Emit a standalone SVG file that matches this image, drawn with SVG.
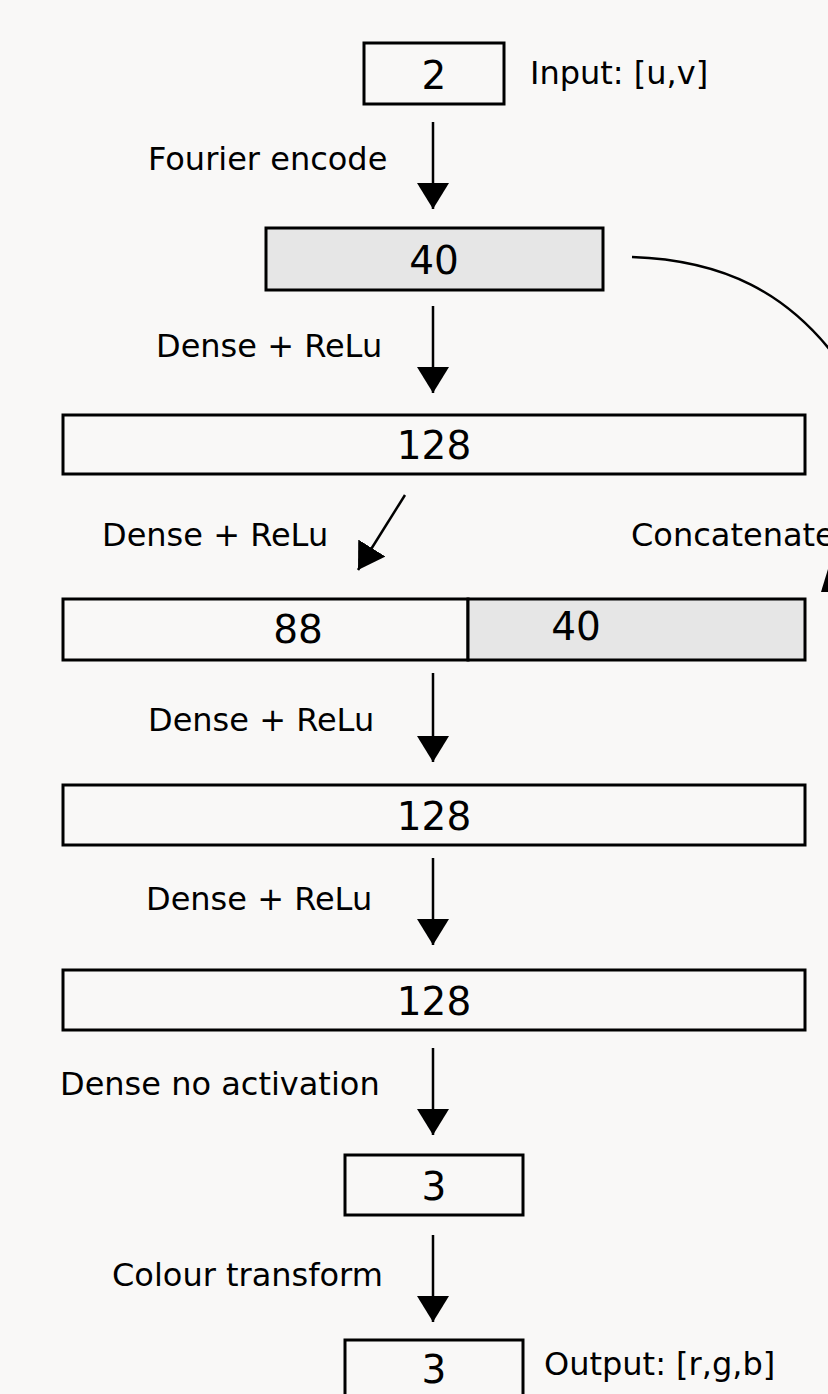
<svg xmlns="http://www.w3.org/2000/svg" width="828" height="1394" viewBox="0 0 828 1394">
<defs>
<style>
.box{fill:#f9f8f7;stroke:#000;stroke-width:3}
.gray{fill:#e6e6e6;stroke:#000;stroke-width:3}
.num{font-family:"DejaVu Sans",Verdana,sans-serif;font-size:39px;fill:#000;text-anchor:middle}
.lbl{font-family:"DejaVu Sans",Verdana,sans-serif;font-size:32px;fill:#000}
.arr{stroke:#000;stroke-width:2.5;fill:none;marker-end:url(#ah)}
</style>
<marker id="ah" markerUnits="userSpaceOnUse" markerWidth="28" markerHeight="34" refX="26" refY="16" orient="auto" viewBox="0 0 28 34">
<path d="M0,0 L26,16 L0,32 z" fill="#000"/>
</marker>
</defs>
<rect width="828" height="1394" fill="#f9f8f7"/>
<g id="n-input">
<rect class="box" x="364" y="43" width="140" height="61"/>
<text class="num" x="434" y="89">2</text>
<text class="lbl" x="530" y="84">Input: [u,v]</text>
</g>
<g id="n-fourier">
<rect class="gray" x="266" y="228" width="337" height="62"/>
<text class="num" x="434" y="274">40</text>
</g>
<g id="n-dense1">
<rect class="box" x="63" y="415" width="742" height="59"/>
<text class="num" x="434" y="459">128</text>
</g>
<g id="n-concat">
<rect class="box" x="63" y="599" width="405" height="61"/>
<rect class="gray" x="468" y="599" width="337" height="61"/>
<text class="num" x="298" y="643">88</text>
<text class="num" x="576" y="640">40</text>
</g>
<g id="n-dense3">
<rect class="box" x="63" y="785" width="742" height="60"/>
<text class="num" x="434" y="830">128</text>
</g>
<g id="n-dense4">
<rect class="box" x="63" y="970" width="742" height="60"/>
<text class="num" x="434" y="1015">128</text>
</g>
<g id="n-out-lin">
<rect class="box" x="345" y="1155" width="178" height="60"/>
<text class="num" x="434" y="1200">3</text>
</g>
<g id="n-output">
<rect class="box" x="345" y="1340" width="178" height="62"/>
<text class="num" x="434" y="1383">3</text>
<text class="lbl" x="544" y="1375">Output: [r,g,b]</text>
</g>
<g id="connectors">
<line class="arr" x1="433" y1="122" x2="433" y2="209"/>
<line class="arr" x1="433" y1="306" x2="433" y2="393"/>
<line class="arr" x1="405" y1="495" x2="358" y2="570"/>
<line class="arr" x1="433" y1="673" x2="433" y2="762"/>
<line class="arr" x1="433" y1="858" x2="433" y2="945"/>
<line class="arr" x1="433" y1="1048" x2="433" y2="1135"/>
<line class="arr" x1="433" y1="1235" x2="433" y2="1322"/>
<path d="M632,257 C720,260 790,290 845,370" stroke="#000" stroke-width="2.5" fill="none"/>
<path d="M828,569 L844,592 L821,592 z" fill="#000"/>
</g>
<g id="labels">
<text class="lbl" x="148" y="170">Fourier encode</text>
<text class="lbl" x="156" y="357">Dense + ReLu</text>
<text class="lbl" x="102" y="546">Dense + ReLu</text>
<text class="lbl" x="631" y="546">Concatenate</text>
<text class="lbl" x="148" y="731">Dense + ReLu</text>
<text class="lbl" x="146" y="910">Dense + ReLu</text>
<text class="lbl" x="60" y="1095">Dense no activation</text>
<text class="lbl" x="112" y="1286">Colour transform</text>
</g>
</svg>
